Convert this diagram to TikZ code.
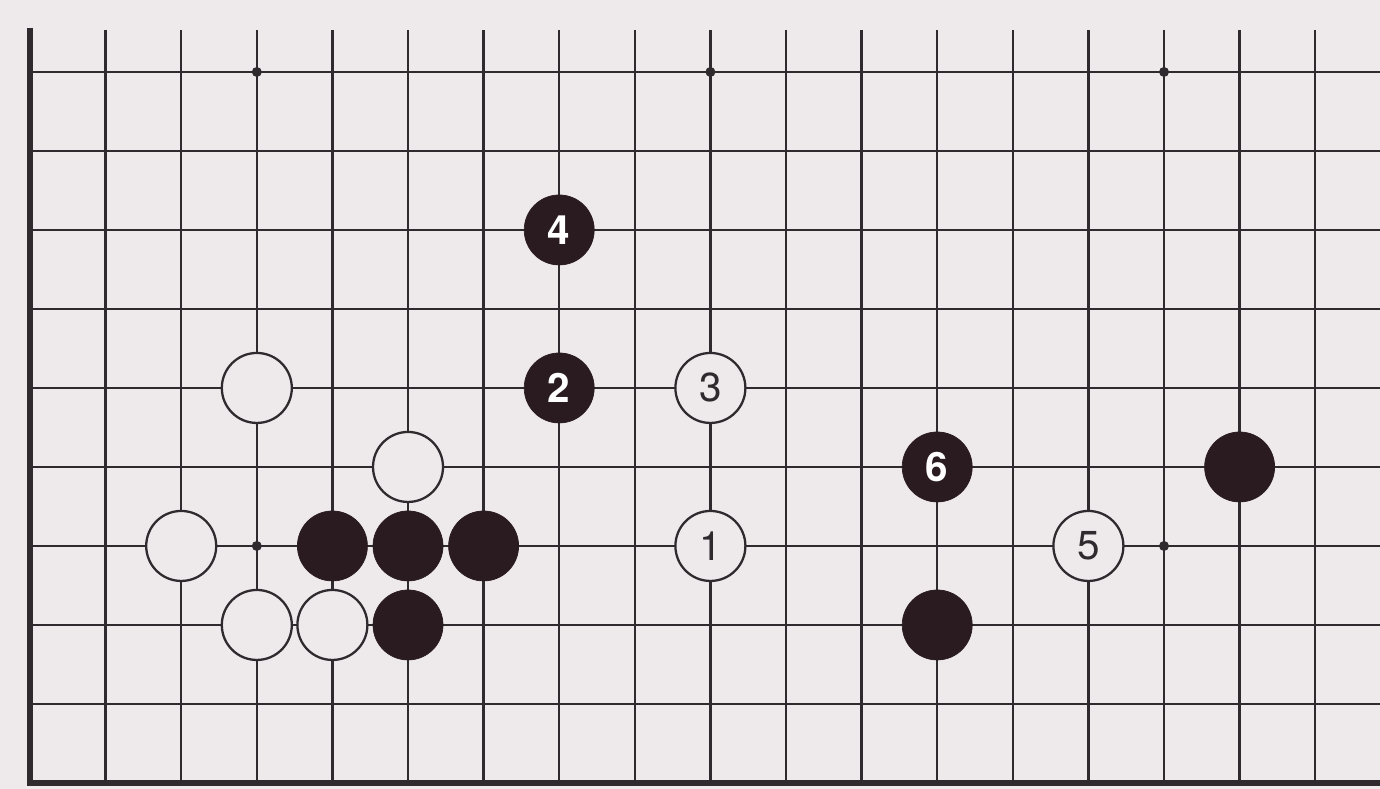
\documentclass[tikz,border=0pt]{standalone}
\usepackage{fontspec}
\setmainfont{TeX Gyre Heros}
\definecolor{paper}{HTML}{EEEAEC}
\definecolor{ink}{HTML}{2E2A2E}
\definecolor{stoneblack}{HTML}{2A1B20}
\tikzset{
  stone/.style={circle, minimum size=1.4cm, inner sep=0pt, font=\fontsize{23}{23}\selectfont},
  blackstone/.style={stone, fill=stoneblack, draw=stoneblack, text=white, font=\fontsize{23}{23}\selectfont\bfseries},
  whitestone/.style={stone, fill=paper, draw=ink, line width=1.3pt, text=ink},
}
\begin{document}
\begin{tikzpicture}[x=1.512cm, y=1.58cm]
				% 1. paper and frame of the picture
				\fill[paper] (-0.397,-0.076) rectangle (17.857,9.911);
				\useasboundingbox (-0.397,-0.076) rectangle (17.857,9.911);
				
				% 2. board lines (open to the top and to the right)
				\foreach \c in {1,...,17}
					\draw[ink, line width=1.3pt] (\c,0) -- (\c,9.53);
				\foreach \r in {1,...,9}
					\draw[ink, line width=1.3pt] (0,\r) -- (17.857,\r);
				\draw[ink, line width=3.4pt, line join=miter] (0,9.56) -- (0,0) -- (17.857,0);
				
				% 3. star points
				\foreach \p in {(3,9),(9,9),(15,9),(3,3),(15,3)}
					\fill[ink] \p circle (0.1cm);
				
				% 4. stones already on the board
				\node[whitestone] (wa) at (3,5) {};
				\node[whitestone] (wb) at (5,4) {};
				\node[whitestone] (wc) at (2,3) {};
				\node[whitestone] (wd) at (3,2) {};
				\node[whitestone] (we) at (4,2) {};
				\node[blackstone] (ba) at (4,3) {};
				\node[blackstone] (bb) at (5,3) {};
				\node[blackstone] (bc) at (6,3) {};
				\node[blackstone] (bd) at (5,2) {};
				\node[blackstone] (be) at (12,2) {};
				\node[blackstone] (bf) at (16,4) {};
				
				% 5. numbered moves
				\node[whitestone] (move1) at (9,3) {1};
				\node[blackstone] (move2) at (7,5) {2};
				\node[whitestone] (move3) at (9,5) {3};
				\node[blackstone] (move4) at (7,7) {4};
				\node[whitestone] (move5) at (14,3) {5};
				\node[blackstone] (move6) at (12,4) {6};
			\end{tikzpicture}
\end{document}
